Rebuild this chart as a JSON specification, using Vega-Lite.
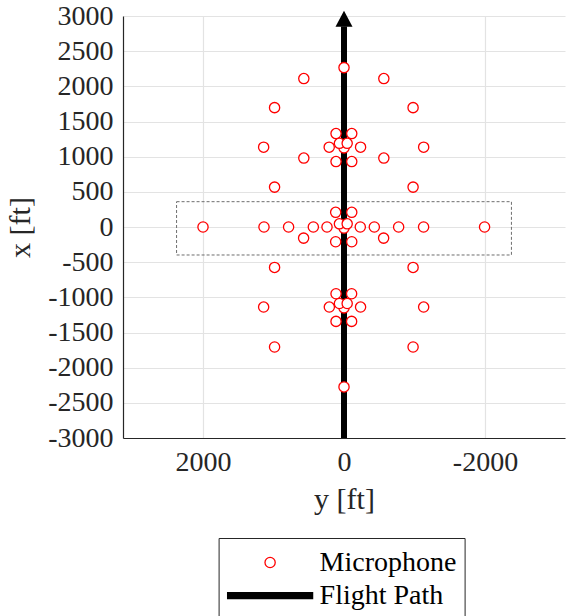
{
  "$schema": "https://vega.github.io/schema/vega-lite/v6.json",
  "width": 442,
  "height": 422,
  "autosize": "none",
  "padding": {"left": 123, "top": 16, "right": 2, "bottom": 178},
  "config": {
    "view": {"stroke": null},
    "font": "Liberation Serif",
    "axis": {
      "labelFont": "Liberation Serif",
      "titleFont": "Liberation Serif",
      "labelFontSize": 28,
      "titleFontSize": 30,
      "titleFontWeight": "normal",
      "labelColor": "#262626",
      "titleColor": "#262626",
      "domainColor": "#262626",
      "domainWidth": 1.2,
      "gridColor": "#e3e3e3",
      "gridWidth": 1.2,
      "ticks": false,
      "labelPadding": 10,
      "labelOverlap": false,
      "labelBound": false
    }
  },
  "datasets": {
    "mics": [
      {"h": 0, "v": 2266, "kind": "Microphone"},
      {"h": 570, "v": 2110, "kind": "Microphone"},
      {"h": -565, "v": 2110, "kind": "Microphone"},
      {"h": 985, "v": 1697, "kind": "Microphone"},
      {"h": -980, "v": 1697, "kind": "Microphone"},
      {"h": 1140, "v": 1135, "kind": "Microphone"},
      {"h": -1130, "v": 1135, "kind": "Microphone"},
      {"h": 570, "v": 980, "kind": "Microphone"},
      {"h": -565, "v": 980, "kind": "Microphone"},
      {"h": 985, "v": 567, "kind": "Microphone"},
      {"h": -980, "v": 567, "kind": "Microphone"},
      {"h": 113, "v": 1328, "kind": "Microphone"},
      {"h": -110, "v": 1328, "kind": "Microphone"},
      {"h": 210, "v": 1135, "kind": "Microphone"},
      {"h": -235, "v": 1135, "kind": "Microphone"},
      {"h": 113, "v": 930, "kind": "Microphone"},
      {"h": -110, "v": 930, "kind": "Microphone"},
      {"h": 0, "v": 1125, "kind": "Microphone"},
      {"h": 65, "v": 1190, "kind": "Microphone"},
      {"h": -45, "v": 1190, "kind": "Microphone"},
      {"h": 2000, "v": 0, "kind": "Microphone"},
      {"h": 1135, "v": 0, "kind": "Microphone"},
      {"h": 786, "v": 0, "kind": "Microphone"},
      {"h": 435, "v": 0, "kind": "Microphone"},
      {"h": 241, "v": 0, "kind": "Microphone"},
      {"h": -231, "v": 0, "kind": "Microphone"},
      {"h": -430, "v": 0, "kind": "Microphone"},
      {"h": -775, "v": 0, "kind": "Microphone"},
      {"h": -1129, "v": 0, "kind": "Microphone"},
      {"h": -1994, "v": 0, "kind": "Microphone"},
      {"h": 573, "v": -158, "kind": "Microphone"},
      {"h": -562, "v": -158, "kind": "Microphone"},
      {"h": 118, "v": 209, "kind": "Microphone"},
      {"h": -110, "v": 209, "kind": "Microphone"},
      {"h": 118, "v": -210, "kind": "Microphone"},
      {"h": -110, "v": -210, "kind": "Microphone"},
      {"h": 0, "v": -15, "kind": "Microphone"},
      {"h": 65, "v": 45, "kind": "Microphone"},
      {"h": -45, "v": 45, "kind": "Microphone"},
      {"h": 985, "v": -575, "kind": "Microphone"},
      {"h": -980, "v": -575, "kind": "Microphone"},
      {"h": 1140, "v": -1138, "kind": "Microphone"},
      {"h": -1130, "v": -1138, "kind": "Microphone"},
      {"h": 985, "v": -1706, "kind": "Microphone"},
      {"h": -980, "v": -1706, "kind": "Microphone"},
      {"h": 0, "v": -2274, "kind": "Microphone"},
      {"h": 113, "v": -949, "kind": "Microphone"},
      {"h": -108, "v": -949, "kind": "Microphone"},
      {"h": 208, "v": -1138, "kind": "Microphone"},
      {"h": -235, "v": -1138, "kind": "Microphone"},
      {"h": 113, "v": -1342, "kind": "Microphone"},
      {"h": -108, "v": -1342, "kind": "Microphone"},
      {"h": 0, "v": -1150, "kind": "Microphone"},
      {"h": 65, "v": -1088, "kind": "Microphone"},
      {"h": -45, "v": -1088, "kind": "Microphone"}
    ],
    "path": [{"h": 0, "v": -3000}, {"h": 0, "v": 2850}],
    "arrow": [{"h": 0, "v": 2962}],
    "box": [{"h": 2375, "h2": -2375, "v": 360, "v2": -398}]
  },
  "encoding": {
    "x": {
      "field": "h", "type": "quantitative",
      "scale": {"domain": [-3135, 3135], "reverse": true, "nice": false, "zero": false},
      "axis": {"title": "y [ft]", "values": [-2000, 0, 2000], "labelExpr": "'' + datum.value", "titlePadding": 8}
    },
    "y": {
      "field": "v", "type": "quantitative",
      "scale": {"domain": [-3000, 3000], "nice": false, "zero": false},
      "axis": {"title": "x [ft]", "values": [-3000, -2500, -2000, -1500, -1000, -500, 0, 500, 1000, 1500, 2000, 2500, 3000], "labelExpr": "'' + datum.value", "titlePadding": 12}
    }
  },
  "layer": [
    {
      "data": {"name": "box"},
      "mark": {"type": "rect", "filled": false, "stroke": "#6e6e6e", "strokeWidth": 1, "strokeDash": [3, 2]},
      "encoding": {
        "x2": {"field": "h2"},
        "y2": {"field": "v2"}
      }
    },
    {
      "data": {"name": "path"},
      "mark": {"type": "line", "color": "black", "strokeWidth": 6, "strokeCap": "butt"},
      "encoding": {}
    },
    {
      "data": {"name": "arrow"},
      "mark": {"type": "point", "shape": "M0,-0.94L1,0.94L-1,0.94Z", "filled": true, "color": "black", "opacity": 1, "size": 289, "strokeWidth": 0},
      "encoding": {}
    },
    {
      "data": {"name": "mics"},
      "mark": {"type": "point", "filled": true, "opacity": 1, "strokeWidth": 1.3},
      "encoding": {
        "fill": {
          "field": "kind", "type": "nominal",
          "scale": {"domain": ["Microphone", "Flight Path"], "range": ["white", "black"]},
          "legend": {"title": null, "orient": "none", "legendX": 95.6, "legendY": 522, "strokeColor": "#262626", "fillColor": "white", "padding": 8, "labelFont": "Liberation Serif", "labelFontSize": 28, "labelColor": "black", "labelOffset": 6, "symbolStrokeWidth": 1.3, "clipHeight": 33, "rowPadding": 0}
        },
        "stroke": {
          "field": "kind", "type": "nominal",
          "scale": {"domain": ["Microphone", "Flight Path"], "range": ["red", "black"]},
          "legend": {"title": null, "orient": "none", "legendX": 95.6, "legendY": 522, "strokeColor": "#262626", "fillColor": "white", "padding": 8, "labelFont": "Liberation Serif", "labelFontSize": 28, "labelColor": "black", "labelOffset": 6, "symbolStrokeWidth": 1.3, "clipHeight": 33, "rowPadding": 0}
        },
        "shape": {
          "field": "kind", "type": "nominal",
          "scale": {"domain": ["Microphone", "Flight Path"], "range": ["circle", "M-1,-0.07L1,-0.07L1,0.07L-1,0.07Z"]},
          "legend": {"title": null, "orient": "none", "legendX": 95.6, "legendY": 522, "strokeColor": "#262626", "fillColor": "white", "padding": 8, "labelFont": "Liberation Serif", "labelFontSize": 28, "labelColor": "black", "labelOffset": 6, "symbolStrokeWidth": 1.3, "clipHeight": 33, "rowPadding": 0}
        },
        "size": {
          "field": "kind", "type": "nominal",
          "scale": {"type": "ordinal", "domain": ["Microphone", "Flight Path"], "range": [105, 7225]},
          "legend": {"title": null, "orient": "none", "legendX": 95.6, "legendY": 522, "strokeColor": "#262626", "fillColor": "white", "padding": 8, "labelFont": "Liberation Serif", "labelFontSize": 28, "labelColor": "black", "labelOffset": 6, "symbolStrokeWidth": 1.3, "clipHeight": 33, "rowPadding": 0}
        }
      }
    }
  ]
}
